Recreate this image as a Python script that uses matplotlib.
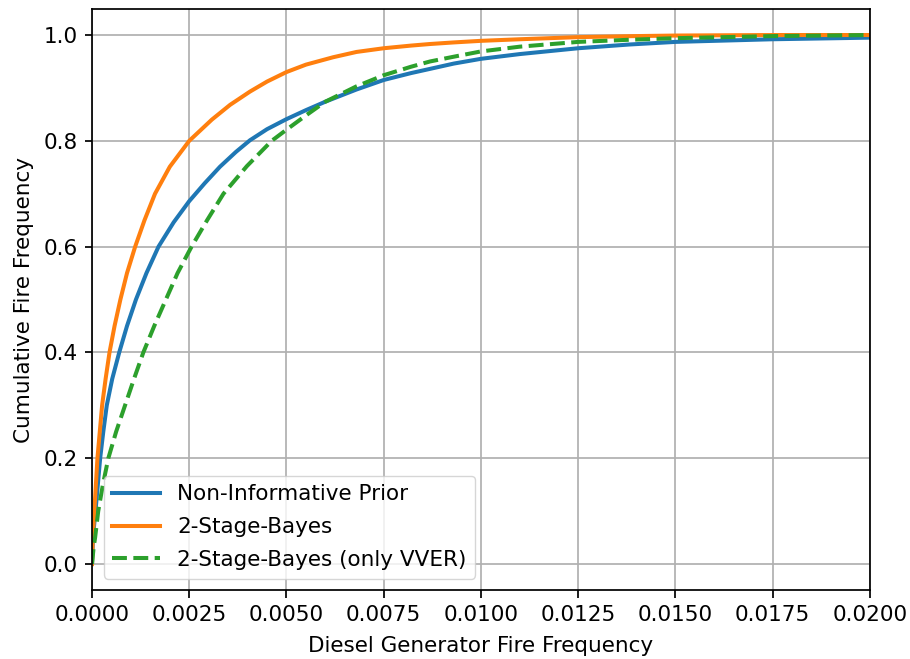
import matplotlib
matplotlib.use("Agg")
import matplotlib.pyplot as plt

# ── Data ─────────────────────────────────────────────────────────────────────
x_noninf = [0, 0.00002, 0.00005, 0.00009, 0.00015, 0.00021, 0.00029, 0.00038,
            0.00052, 0.0007, 0.0009, 0.00113, 0.0014, 0.00171, 0.0021, 0.0025,
            0.0029, 0.00329, 0.0037, 0.00406, 0.0045, 0.005, 0.0055, 0.006,
            0.0068, 0.0075, 0.0082, 0.00869, 0.0093, 0.01, 0.011, 0.0125,
            0.0138, 0.015, 0.0175, 0.02]
y_noninf = [0, 0.04, 0.07, 0.10, 0.15, 0.20, 0.25, 0.30,
            0.35, 0.40, 0.45, 0.50, 0.55, 0.60, 0.646, 0.686,
            0.720, 0.751, 0.779, 0.801, 0.822, 0.841, 0.858, 0.874,
            0.897, 0.915, 0.928, 0.936, 0.946, 0.955, 0.964, 0.975,
            0.982, 0.987, 0.992, 0.995]

x_2stage = [0, 0.00002, 0.00006, 0.0001, 0.00014, 0.0002, 0.00026, 0.00035,
            0.00045, 0.00058, 0.00073, 0.0009, 0.00111, 0.00135, 0.00162, 0.002,
            0.0025, 0.00308, 0.00355, 0.00406, 0.0045, 0.005, 0.0055, 0.0062,
            0.0068, 0.0075, 0.0082, 0.00869, 0.0093, 0.01, 0.011, 0.0125,
            0.014, 0.015, 0.0175, 0.02]
y_2stage = [0, 0.05, 0.10, 0.15, 0.20, 0.25, 0.30, 0.35,
            0.40, 0.45, 0.50, 0.55, 0.60, 0.65, 0.70, 0.751,
            0.800, 0.840, 0.868, 0.893, 0.912, 0.930, 0.944, 0.958,
            0.968, 0.975, 0.980, 0.983, 0.986, 0.989, 0.992, 0.996,
            0.998, 0.999, 1.0, 1.0]

x_vver = [0, 0.00004, 0.00008, 0.00016, 0.00028, 0.00042, 0.00062, 0.00085,
          0.00108, 0.00132, 0.0016, 0.0019, 0.0022, 0.00256, 0.00296, 0.00338,
          0.00398, 0.00462, 0.005, 0.0055, 0.006, 0.0068, 0.0075, 0.0082,
          0.00869, 0.0093, 0.01, 0.011, 0.0125, 0.0138, 0.015, 0.0175, 0.02]
y_vver = [0, 0.03, 0.05, 0.10, 0.15, 0.20, 0.25, 0.30,
          0.35, 0.40, 0.45, 0.50, 0.55, 0.60, 0.65, 0.70,
          0.752, 0.800, 0.821, 0.848, 0.874, 0.903, 0.924, 0.940,
          0.950, 0.959, 0.969, 0.978, 0.987, 0.991, 0.994, 0.998, 1.0]

labels = ["Non-Informative Prior", "2-Stage-Bayes", "2-Stage-Bayes (only VVER)"]
x_ticks = [0, 0.0025, 0.005, 0.0075, 0.01, 0.0125, 0.015, 0.0175, 0.02]
y_ticks = [0, 0.2, 0.4, 0.6, 0.8, 1.0]

FS = 15.5
LW = 2.9

# ── Figure ───────────────────────────────────────────────────────────────────
fig = plt.figure(figsize=(9.1, 6.59), dpi=100)
ax = fig.add_axes([0.1011, 0.104, 0.8549, 0.883])

ax.plot(x_noninf, y_noninf, color="tab:blue", lw=LW, label=labels[0])
ax.plot(x_2stage, y_2stage, color="tab:orange", lw=LW, label=labels[1])
ax.plot(x_vver, y_vver, color="tab:green", lw=LW, ls="--", label=labels[2])

ax.set_xlim(0, 0.02)
ax.set_ylim(-0.05, 1.05)
ax.set_xticks(x_ticks)
ax.set_xticklabels([f"{v:.4f}" for v in x_ticks])
ax.set_yticks(y_ticks)
ax.set_yticklabels([f"{v:.1f}" for v in y_ticks])
ax.grid(True, color="#b0b0b0", lw=1.25)
ax.tick_params(labelsize=FS, width=1.25, length=5.4, pad=5)
for s in ax.spines.values():
    s.set_linewidth(1.25)

ax.set_xlabel("Diesel Generator Fire Frequency", fontsize=FS, labelpad=8)
ax.set_ylabel("Cumulative Fire Frequency", fontsize=FS, labelpad=7)
ax.legend(loc="lower left", fontsize=FS, labelspacing=0.6, handlelength=2.2,
          borderaxespad=0.55)

fig.savefig("out.png", dpi=100)
